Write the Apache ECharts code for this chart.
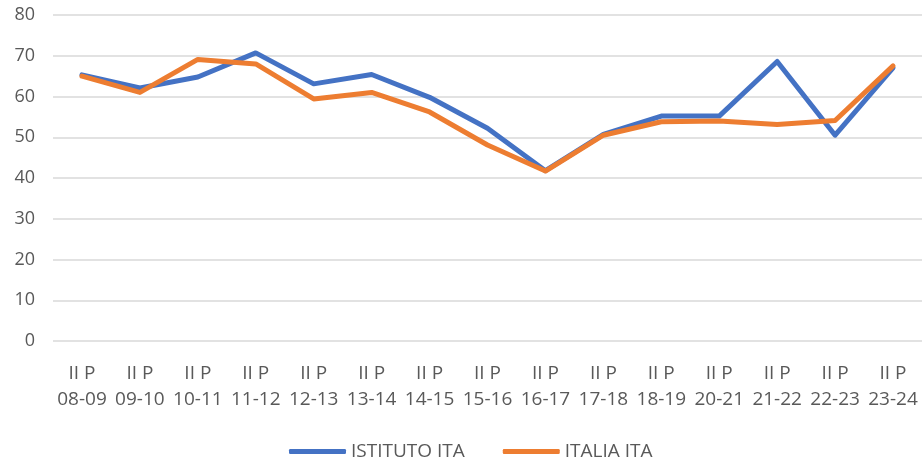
<!DOCTYPE html>
<html>
<head>
<meta charset="utf-8">
<script src="https://cdn.jsdelivr.net/npm/echarts@6/dist/echarts.min.js"></script>
<style>
  html, body { margin: 0; padding: 0; background: #fff; }
  #chart { width: 924px; height: 470px; }
</style>
</head>
<body>
<div id="chart"></div>
<script>
// categorie (anni)
var categories = ['08-09', '09-10', '10-11', '11-12', '12-13', '13-14', '14-15', '15-16',
  '16-17', '17-18', '18-19', '20-21', '21-22', '22-23', '23-24'];

// valori
var istitutoIta = [65.3, 62.1, 64.8, 70.7, 63.1, 65.4, 59.8, 52.2, 41.8, 50.7, 55.2, 55.2, 68.6, 50.5, 67.0];
var italiaIta = [65.0, 61.0, 69.1, 68.0, 59.4, 61.0, 56.2, 48.1, 41.7, 50.5, 53.8, 54.0, 53.1, 54.1, 67.5];

var chart = echarts.init(document.getElementById('chart'));

var textColor = '#595959';
var font = 'Open Sans';

var option = {
  backgroundColor: '#ffffff',
  animation: false,
  grid: {
    left: 53,
    right: 2,
    top: 15,
    bottom: 129
  },
  legend: {
    bottom: 4,
    left: 284,
    itemWidth: 57,
    itemHeight: 5,
    itemGap: 38,
    icon: 'roundRect',
    textStyle: { color: textColor, fontSize: 19, fontFamily: font },
    data: ['ISTITUTO ITA', 'ITALIA ITA']
  },
  xAxis: {
    type: 'category',
    boundaryGap: true,
    data: categories,
    axisLine: { show: false },
    axisTick: { show: false },
    axisLabel: {
      interval: 0,
      margin: 20,
      color: textColor,
      fontSize: 19,
      fontFamily: font,
      lineHeight: 26,
      formatter: function (v) {
        return 'II P\n' + v;
      }
    }
  },
  yAxis: {
    type: 'value',
    min: 0,
    max: 80,
    interval: 10,
    axisLine: { show: false },
    axisTick: { show: false },
    axisLabel: {
      color: textColor,
      fontSize: 18,
      fontFamily: font,
      margin: 18
    },
    splitLine: { lineStyle: { color: '#d9d9d9', width: 1.5 } }
  },
  series: [
    {
      name: 'ISTITUTO ITA',
      type: 'line',
      data: istitutoIta,
      symbol: 'none',
      lineStyle: { color: '#4472C4', width: 5, cap: 'round', join: 'round' },
      itemStyle: { color: '#4472C4' }
    },
    {
      name: 'ITALIA ITA',
      type: 'line',
      data: italiaIta,
      symbol: 'none',
      lineStyle: { color: '#ED7D31', width: 5, cap: 'round', join: 'round' },
      itemStyle: { color: '#ED7D31' }
    }
  ]
};

chart.setOption(option);
</script>
</body>
</html>
